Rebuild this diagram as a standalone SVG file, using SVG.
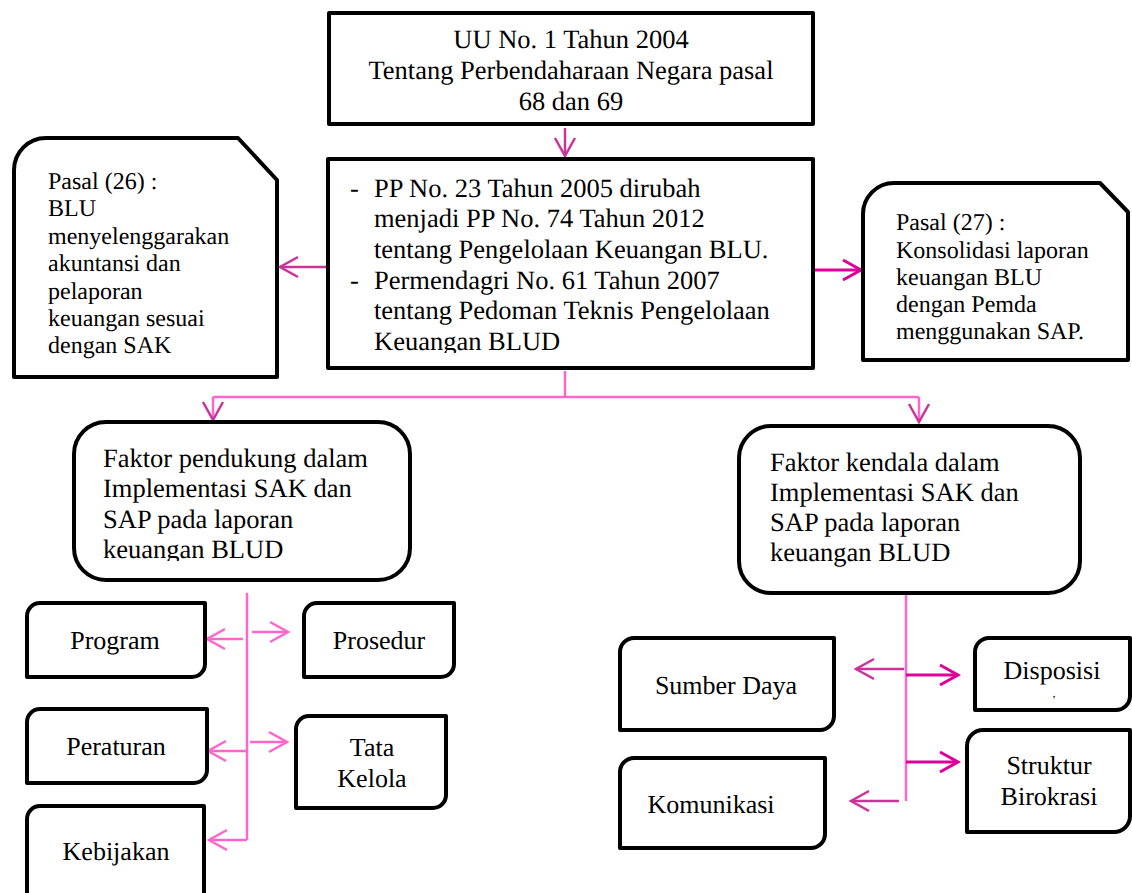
<svg xmlns="http://www.w3.org/2000/svg" width="1132" height="893" viewBox="0 0 1132 893">
<style>
.box{fill:#fff;stroke:#000;stroke-width:4;stroke-linejoin:round}
.lp{fill:none;stroke:#ff66cc;stroke-width:2.5}
.dp{fill:none;stroke:#cc3399;stroke-width:2.5}
.mg{fill:none;stroke:#dd0099;stroke-width:3}
text{text-rendering:geometricPrecision}
</style>
<defs>
<marker id="aLp" markerUnits="userSpaceOnUse" markerWidth="26" markerHeight="26" viewBox="-22 -13 26 26" refX="0" refY="0" orient="auto" overflow="visible">
<path d="M-18,-10 L0,0 L-18,10" fill="none" stroke="#ff66cc" stroke-width="2.5"/>
</marker>
<marker id="aDp" markerUnits="userSpaceOnUse" markerWidth="26" markerHeight="26" viewBox="-22 -13 26 26" refX="0" refY="0" orient="auto" overflow="visible">
<path d="M-18,-10 L0,0 L-18,10" fill="none" stroke="#cc3399" stroke-width="2.5"/>
</marker>
<marker id="aMg" markerUnits="userSpaceOnUse" markerWidth="26" markerHeight="26" viewBox="-22 -13 26 26" refX="0" refY="0" orient="auto" overflow="visible">
<path d="M-18,-10 L0,0 L-18,10" fill="none" stroke="#dd0099" stroke-width="3"/>
</marker>
<clipPath id="clipMid"><rect x="330" y="160" width="480" height="193"/></clipPath>
<clipPath id="clipLF"><rect x="76" y="424" width="330" height="137"/></clipPath>
</defs>

<g id="connectors">
<line class="dp" x1="565" y1="128" x2="565" y2="156" marker-end="url(#aDp)"/>
<line class="dp" x1="327" y1="267" x2="280" y2="267" marker-end="url(#aDp)"/>
<line class="mg" x1="814" y1="270" x2="861" y2="270" marker-end="url(#aMg)"/>
<line class="lp" x1="565" y1="371" x2="565" y2="397"/>
<line class="lp" x1="213" y1="397" x2="919" y2="397"/>
<line class="lp" x1="213" y1="397" x2="213" y2="420" marker-end="url(#aDp)"/>
<line class="lp" x1="919" y1="397" x2="919" y2="422" marker-end="url(#aDp)"/>
<line class="lp" x1="247" y1="593" x2="247" y2="840"/>
<line class="lp" x1="243" y1="639" x2="207" y2="639" marker-end="url(#aLp)"/>
<line class="lp" x1="252" y1="632" x2="288" y2="632" marker-end="url(#aLp)"/>
<line class="lp" x1="247" y1="751" x2="208" y2="751" marker-end="url(#aLp)"/>
<line class="lp" x1="250" y1="742" x2="287" y2="742" marker-end="url(#aLp)"/>
<line class="lp" x1="247" y1="840" x2="209" y2="840" marker-end="url(#aLp)"/>
<line class="lp" x1="906" y1="593" x2="906" y2="801"/>
<line class="dp" x1="904" y1="669" x2="856" y2="669" marker-end="url(#aDp)"/>
<line class="dp" x1="899" y1="801" x2="851" y2="801" marker-end="url(#aDp)"/>
<line class="mg" x1="906" y1="675" x2="958" y2="675" marker-end="url(#aMg)"/>
<line class="mg" x1="906" y1="762" x2="958" y2="762" marker-end="url(#aMg)"/>
</g>

<g font-family="Liberation Serif, Times New Roman, serif" fill="#000">
<g id="uu" font-size="26.5" text-anchor="middle">
<rect class="box" x="329" y="13" width="484" height="111"/>
<text x="571" y="48">UU No. 1 Tahun 2004</text>
<text x="571" y="79">Tentang Perbendaharaan Negara pasal</text>
<text x="571" y="110">68 dan 69</text>
</g>

<g id="pp" font-size="26.5">
<rect class="box" x="328" y="159" width="485" height="209"/>
<g clip-path="url(#clipMid)">
<text x="350" y="197">-</text>
<text x="374" y="197">PP No. 23 Tahun 2005 dirubah</text>
<text x="374" y="227">menjadi PP No. 74 Tahun 2012</text>
<text x="374" y="258">tentang Pengelolaan Keuangan BLU.</text>
<text x="350" y="289">-</text>
<text x="374" y="289">Permendagri No. 61 Tahun 2007</text>
<text x="374" y="319">tentang Pedoman Teknis Pengelolaan</text>
<text x="374" y="350">Keuangan BLUD</text>
</g>
</g>

<g id="pasal26" font-size="24">
<path class="box" d="M14,377 V170 A32,32 0 0 1 46,138 H238 L277,180 V377 Z"/>
<text x="48" y="189">Pasal (26) :</text>
<text x="48" y="216">BLU</text>
<text x="48" y="244">menyelenggarakan</text>
<text x="48" y="271">akuntansi dan</text>
<text x="48" y="299">pelaporan</text>
<text x="48" y="326">keuangan sesuai</text>
<text x="48" y="353">dengan SAK</text>
</g>

<g id="pasal27" font-size="24">
<path class="box" d="M863,360 V214 A31,31 0 0 1 894,183 H1100 L1128,212 V360 Z"/>
<text x="896" y="230">Pasal (27) :</text>
<text x="896" y="258">Konsolidasi laporan</text>
<text x="896" y="285">keuangan BLU</text>
<text x="896" y="312">dengan Pemda</text>
<text x="896" y="339">menggunakan SAP.</text>
</g>

<g id="pendukung" font-size="26.5">
<rect class="box" x="74" y="422" width="336" height="158" rx="32" ry="32"/>
<g clip-path="url(#clipLF)">
<text x="103" y="467">Faktor pendukung dalam</text>
<text x="103" y="497">Implementasi SAK dan</text>
<text x="103" y="528">SAP pada laporan</text>
<text x="103" y="558">keuangan BLUD</text>
</g>
</g>

<g id="kendala" font-size="26.5">
<rect class="box" x="739" y="426" width="341" height="167" rx="32" ry="32"/>
<text x="770" y="471">Faktor kendala dalam</text>
<text x="770" y="501">Implementasi SAK dan</text>
<text x="770" y="531">SAP pada laporan</text>
<text x="770" y="561">keuangan BLUD</text>
</g>

<g font-size="26" text-anchor="middle">
<g id="program">
<path class="box" d="M27,677 V616 A13,13 0 0 1 40,603 H205 V664 A13,13 0 0 1 192,677 Z"/>
<text x="115" y="649">Program</text>
</g>
<g id="prosedur">
<path class="box" d="M304,677 V616 A13,13 0 0 1 317,603 H454 V664 A13,13 0 0 1 441,677 Z"/>
<text x="379" y="649">Prosedur</text>
</g>
<g id="peraturan">
<path class="box" d="M27,783 V722 A13,13 0 0 1 40,709 H207 V770 A13,13 0 0 1 194,783 Z"/>
<text x="116" y="755">Peraturan</text>
</g>
<g id="tatakelola">
<path class="box" d="M296,808 V729 A13,13 0 0 1 309,716 H446 V795 A13,13 0 0 1 433,808 Z"/>
<text x="372" y="756">Tata</text>
<text x="372" y="787">Kelola</text>
</g>
<g id="kebijakan">
<path class="box" d="M27,910 V819 A13,13 0 0 1 40,806 H204 V897 A13,13 0 0 1 191,910 Z"/>
<text x="116" y="860">Kebijakan</text>
</g>

<g id="sumberdaya">
<path class="box" d="M620,730 V652 A14,14 0 0 1 634,638 H834 V716 A14,14 0 0 1 820,730 Z"/>
<text x="726" y="694">Sumber Daya</text>
</g>
<g id="komunikasi">
<path class="box" d="M620,848 V772 A14,14 0 0 1 634,758 H825 V834 A14,14 0 0 1 811,848 Z"/>
<text x="711" y="813">Komunikasi</text>
</g>
<g id="disposisi">
<path class="box" d="M975,710 V652 A14,14 0 0 1 989,638 H1130 V696 A14,14 0 0 1 1116,710 Z"/>
<text x="1052" y="679">Disposisi</text>
<text x="1054" y="697" font-size="12">,</text>
</g>
<g id="struktur">
<path class="box" d="M967,832 V746 A16,16 0 0 1 983,730 H1130 V816 A16,16 0 0 1 1114,832 Z"/>
<text x="1049" y="774">Struktur</text>
<text x="1049" y="805">Birokrasi</text>
</g>
</g>
</g>
</svg>
